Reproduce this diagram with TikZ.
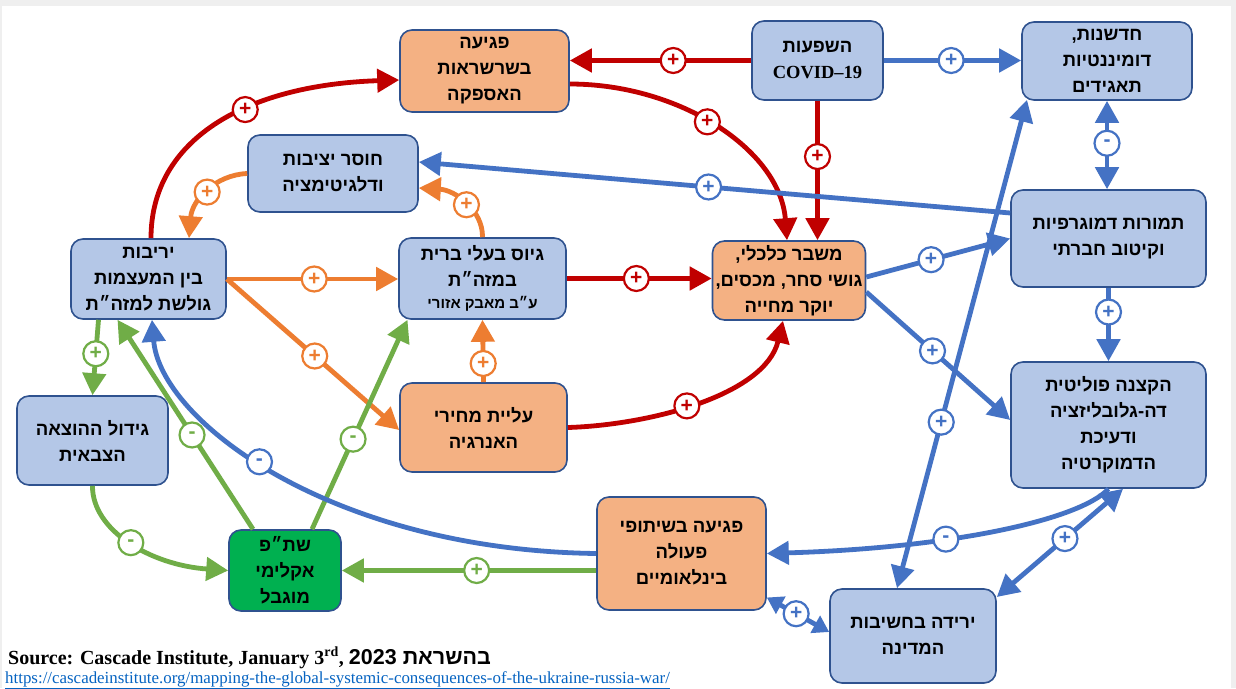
\documentclass[tikz,border=0pt]{standalone}
\usepackage{fontspec}
\usetikzlibrary{arrows.meta,calc}
\TeXXeTstate=1
\newfontfamily\hfont[Script=Hebrew]{Liberation Sans}
\newfontfamily\sfont{Liberation Serif}
\newcommand\heb[1]{\beginR#1\endR}
\definecolor{cred}{HTML}{C00000}
\definecolor{cblue}{HTML}{4472C4}
\definecolor{corange}{HTML}{ED7D31}
\definecolor{cgreen}{HTML}{70AD47}
\definecolor{bfill}{HTML}{B4C7E7}
\definecolor{ofill}{HTML}{F4B183}
\definecolor{gfill}{HTML}{00B050}
\definecolor{bedge}{HTML}{2F528F}
\definecolor{linkc}{HTML}{0563C1}
\definecolor{frame}{HTML}{EFEFEF}
\begin{document}
\begin{tikzpicture}[x=1pt,y=-1pt,
  >={Triangle[length=22pt,width=23pt]},
  box/.style={draw=bedge, line width=1.6pt, rounded corners=12pt, align=center,
    inner sep=0pt, text=black, font=\hfont\bfseries\fontsize{18.5}{26}\selectfont},
  bbox/.style={box, fill=bfill},
  obox/.style={box, fill=ofill},
  gbox/.style={box, fill=gfill},
  sz/.style 2 args={minimum width=#1pt, minimum height=#2pt},
  arr/.style={line width=4.8pt, ->},
  darr/.style={line width=4.8pt, <->},
  sdarr/.style={line width=4.8pt, {Triangle[length=16pt,width=19pt]}-{Triangle[length=16pt,width=19pt]}},
  sg/.style={circle, draw=#1, fill=white, text=#1, line width=2.2pt,
    minimum size=25pt, inner sep=0pt, font=\hfont\bfseries\fontsize{21}{21}\selectfont}
]
\useasboundingbox (0,0) rectangle (1236,688);
\fill[white] (0,0) rectangle (1236,688);
\fill[frame] (0,0) rectangle (1236,6);
\fill[frame] (1231,0) rectangle (1236,688);
\fill[frame] (0,0) rectangle (1.5,688);

% boxes
\node[obox,sz={169}{82}] (supply) at (484.5,71) {\heb{פגיעה}\\\heb{בשרשראות}\\\heb{האספקה}};
\node[bbox,sz={131}{79}] (covid) at (817.5,60.5) {\heb{השפעות}\\{\sfont\bfseries COVID–19}};
\node[bbox,sz={170}{78}] (innov) at (1107,61) {\heb{חדשנות\kern0pt,}\\\heb{דומיננטיות}\\\heb{תאגידים}};
\node[bbox,sz={170}{77}] (instab) at (333,173.5) {\heb{חוסר יציבות}\\\heb{ודלגיטימציה}};
\node[bbox,sz={155}{80}] (rival) at (148.5,279) {\heb{יריבות}\\\heb{בין המעצמות}\\\heb{גולשת למזה״ת}};
\node[bbox,sz={167}{81}] (allies) at (482.5,278.5) {\heb{גיוס בעלי ברית}\\\heb{במזה״ת}\\[-4pt]{\fontsize{15}{18}\selectfont\heb{ע״ב מאבק אזורי}}};
\node[obox,sz={153}{79}] (econ) at (789,280.5) {\heb{משבר כלכלי\kern0pt,}\\\heb{גושי סחר\kern0pt, מכסים\kern0pt,}\\\heb{יוקר מחייה}};
\node[bbox,sz={195}{97}] (demo) at (1108.5,238.5) {\heb{תמורות דמוגרפיות}\\\heb{וקיטוב חברתי}};
\node[bbox,sz={195}{126}] (polit) at (1108.5,425) {\heb{הקצנה פוליטית}\\\heb{דה-גלובליזציה}\\\heb{ודעיכת}\\\heb{הדמוקרטיה}};
\node[obox,sz={169}{113}] (intl) at (681.5,553.5) {\heb{פגיעה בשיתופי}\\\heb{פעולה}\\\heb{בינלאומיים}};
\node[bbox,sz={166}{94}] (decline) at (913,636) {\heb{ירידה בחשיבות}\\\heb{המדינה}};
\node[obox,sz={167}{89}] (energy) at (483.5,427.5) {\heb{עליית מחירי}\\\heb{האנרגיה}};
\node[bbox,sz={151}{89}] (military) at (92.5,440.5) {\heb{גידול ההוצאה}\\\heb{הצבאית}};
\node[gbox,sz={112}{81}] (climate) at (285,570.5) {\heb{שת״פ}\\\heb{אקלימי}\\\heb{מוגבל}};

% red connectors
\draw[arr,cred] (covid.west) -- (covid.west -| supply.east) node[sg=cred,pos=0.43]{+};
\draw[arr,cred] ([yshift=-13pt]supply.east) .. controls (680,84) and (780,150) .. ([xshift=-2pt]econ.north) node[sg=cred,pos=0.46]{+};
\draw[arr,cred] (covid.south) -- (covid.south |- econ.north) node[sg=cred,pos=0.4]{+};
\draw[arr,cred] (allies.east) -- (allies.east -| econ.west) node[sg=cred,pos=0.48]{+};
\draw[arr,cred] (energy.east) .. controls (650,425) and (765,395) .. ([xshift=-6pt]econ.south) node[sg=cred,pos=0.45]{+};
\draw[arr,cred] ([xshift=2.5pt]rival.north) .. controls (151,140) and (245,85) .. ([yshift=-9pt]supply.west) node[sg=cred,pos=0.6]{+};

% orange connectors
\draw[arr,corange] (instab.west) .. controls (215,175) and (192,200) .. ([xshift=40.5pt]rival.north) node[sg=corange,pos=0.5]{+};
\draw[arr,corange] (allies.north) .. controls (483,210) and (455,190) .. ([yshift=-14.5pt]instab.east) node[sg=corange,pos=0.47]{+};
\draw[arr,corange] (rival.east) -- (rival.east -| allies.west) node[sg=corange,pos=0.51]{+};
\draw[arr,corange] (rival.east) -- ([yshift=-2.5pt]energy.west) node[sg=corange,pos=0.51]{+};
\draw[arr,corange] (energy.north) -- (allies.south) node[sg=corange,pos=0.3]{+};

% green connectors
\draw[arr,cgreen] ([xshift=-50pt]rival.south) -- (military.north) node[sg=cgreen,pos=0.45]{+};
\draw[arr,cgreen] ([xshift=-32pt]climate.north) -- ([xshift=-31pt]rival.south) node[sg=cgreen,pos=0.45]{-};
\draw[arr,cgreen] ([xshift=27pt]climate.north) -- ([xshift=-75pt]allies.south) node[sg=cgreen,pos=0.43]{-};
\draw[arr,cgreen] (military.south) .. controls (92,530) and (150,565) .. (climate.west) node[sg=cgreen,pos=0.5]{-};
\draw[arr,cgreen] (climate.east -| intl.west) -- (climate.east) node[sg=cgreen,pos=0.47]{+};

% blue connectors
\draw[arr,cblue] (covid.east) -- (covid.east -| innov.west) node[sg=cblue,pos=0.49]{+};
\draw[arr,cblue] ([yshift=25.5pt]demo.west) -- ([yshift=11.5pt]instab.east) node[sg=cblue,pos=0.51]{+};
\draw[darr,cblue] (innov.south) -- (innov.south |- demo.north) node[sg=cblue,pos=0.48]{-};
\draw[arr,cblue] ([yshift=3.5pt]econ.east) -- (demo.west) node[sg=cblue,pos=0.45]{+};
\draw[arr,cblue] ([yshift=-11.5pt]econ.east) -- ([yshift=5pt]polit.west) node[sg=cblue,pos=0.46]{+};
\draw[arr,cblue] (demo.south) -- (polit.north) node[sg=cblue,pos=0.33]{+};
\draw[darr,cblue] ([xshift=-80pt,yshift=1pt]innov.south) -- ([xshift=-16pt]decline.north) node[sg=cblue,pos=0.66]{+};
\draw[arr,cblue] (polit.south) .. controls (1080,520) and (950,548) .. (intl.east) node[sg=cblue,pos=0.63]{-};
\draw[darr,cblue] ([xshift=14.5pt]polit.south) -- ([yshift=39pt]decline.east) node[sg=cblue,pos=0.46]{+};
\draw[sdarr,cblue] ([yshift=-44pt]intl.east) -- ([yshift=4pt]decline.west) node[sg=cblue,pos=0.47]{+};
\draw[arr,cblue] (intl.west) .. controls (330,550) and (160,420) .. ([xshift=3.5pt]rival.south) node[sg=cblue,pos=0.54]{-};

% source
\node[anchor=base west, inner sep=0pt, font=\sfont\bfseries\fontsize{20}{24}\selectfont] (src) at (8,664)
  {Source: Cascade Institute, January 3\textsuperscript{rd}, {\hfont\fontsize{21.5}{24}\selectfont 2023 \heb{בהשראת}}};
\node[anchor=base west, inner sep=0pt, text=linkc, font=\sfont\fontsize{16.9}{18}\selectfont] (url) at (5,683)
  {\underline{https://cascadeinstitute.org/mapping-the-global-systemic-consequences-of-the-ukraine-russia-war/}};
\end{tikzpicture}
\end{document}
